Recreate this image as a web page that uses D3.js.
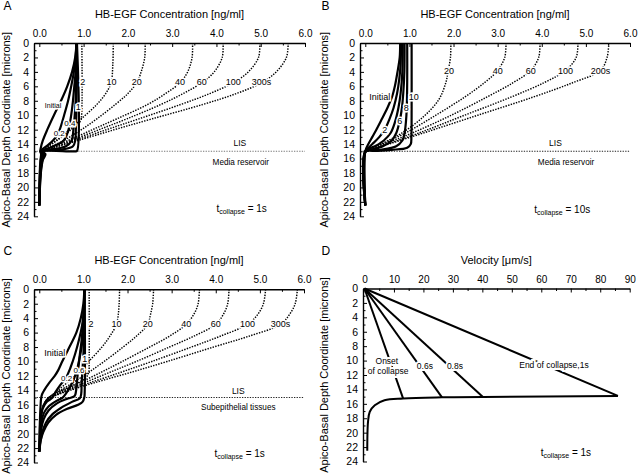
<!DOCTYPE html>
<html><head><meta charset="utf-8">
<script src="https://cdn.jsdelivr.net/npm/d3@7"></script>
<style>
body{margin:0;background:#fff}
svg{display:block}
text{font-family:"Liberation Sans",Arial,Helvetica,sans-serif}
</style>
</head><body>
<svg id="chart" width="638" height="475"></svg>
<script>
// ---------------- tick values ----------------
const concTicks = [0,1,2,3,4,5,6];
const concMinor = [0.5,1.5,2.5,3.5,4.5,5.5];
const depthTicks = [0,2,4,6,8,10,12,14,16,18,20,22,24];
const depthMinor = [1,3,5,7,9,11,13,15,17,19,21,23];
const velTicks = [0,10,20,30,40,50,60,70,80,90];
const velMinor = [5,15,25,35,45,55,65,75,85];

// ---------------- Panel A (each point: [depth, concentration]) ----------------
const aSolidNames = ["Initial","0.2","0.4","0.6","0.8","1"];
const aSolid = [
  [[0,0.84],[2,0.81],[4,0.74],[6,0.63],[8,0.49],[10,0.33],[12,0.18],[13.5,0.08],[14.6,0.03],[15,0.02],[15.4,0.04],[16.2,0.025],[18,0.01],[22.5,0]],
  [[0,0.84],[2,0.82],[4,0.78],[6,0.72],[8,0.65],[10,0.56],[12,0.46],[13,0.38],[14,0.22],[14.7,0.07],[15,0.03],[15.4,0.06],[16.2,0.035],[18,0.015],[22.5,0]],
  [[0,0.84],[2,0.835],[4,0.82],[6,0.79],[8,0.76],[10,0.72],[11.1,0.69],[12,0.66],[13.5,0.55],[14.3,0.32],[14.8,0.1],[15,0.04],[15.4,0.08],[16.2,0.05],[18,0.02],[22.5,0]],
  [[0,0.84],[4,0.835],[8,0.82],[10,0.8],[12,0.77],[13.5,0.73],[14.3,0.6],[14.7,0.32],[15,0.05],[15.4,0.1],[16.2,0.06],[18,0.025],[22.5,0]],
  [[0,0.845],[6,0.845],[10,0.835],[12,0.825],[13.5,0.81],[14.3,0.76],[14.75,0.5],[15,0.08],[15.4,0.12],[16.2,0.07],[18,0.03],[22.5,0]],
  [[0,0.85],[14.95,0.85],[15,0.8],[15,0.03],[15.4,0.14],[16.2,0.08],[18,0.035],[22.5,0]]
];
const aDottedNames = ["2","10","20","40","60","100","300s"];
const aDotted = [
  [[0,0.96],[10,0.955],[10.8,0.93],[12,0.72],[13.5,0.4],[14.5,0.16],[15,0.04]],
  [[0,1.67],[3,1.66],[5.5,1.62],[7,1.5],[8.5,1.3],[10.5,0.95],[12,0.68],[13.5,0.38],[14.5,0.15],[15,0.04]],
  [[0,2.39],[2,2.38],[4,2.3],[5.5,2.2],[7,2.0],[8.5,1.72],[10.5,1.3],[12,0.95],[13.5,0.55],[14.5,0.22],[15,0.05]],
  [[0,3.46],[2,3.45],[4,3.35],[5.5,3.18],[7,2.85],[8.5,2.45],[10.5,1.75],[12,1.2],[13.5,0.65],[14.5,0.25],[15,0.05]],
  [[0,4.15],[2,4.13],[4,3.95],[5.5,3.67],[7,3.25],[8.5,2.75],[10.5,1.98],[12,1.35],[13.5,0.72],[14.5,0.28],[15,0.05]],
  [[0,4.98],[2,4.95],[4,4.72],[5.5,4.38],[7,3.85],[8.5,3.2],[10.5,2.25],[12,1.52],[13.5,0.8],[14.5,0.3],[15,0.05]],
  [[0,5.62],[2,5.58],[4,5.35],[5.5,5.02],[7,4.45],[8.5,3.7],[10.5,2.55],[12,1.7],[13.5,0.88],[14.5,0.33],[15,0.05]]
];
// label: [text, concentration, depth, fontsize]
const aLabels = [["Initial",0.31,8.6,7],["1",0.88,8.8,9],["0.4",0.69,11.1,8],["0.2",0.45,12.5,8],
  ["2",0.98,5.4,9],["10",1.63,5.4,9],["20",2.2,5.4,9],["40",3.18,5.4,9],["60",3.67,5.4,9],["100",4.38,5.4,9],["300s",5.02,5.4,9]];

// ---------------- Panel B ----------------
const bSolidNames = ["Initial","2","4","6","8","10"];
const bSolid = [
  [[0,0.79],[2,0.78],[4,0.73],[6,0.67],[7.4,0.61],[9,0.5],[10.7,0.36],[12,0.25],[13,0.16],[14,0.07],[15,0],[22.5,0]],
  [[0,0.81],[3,0.8],[5,0.77],[7,0.72],[9,0.64],[10.5,0.55],[12,0.44],[13,0.32],[14,0.16],[14.7,0.04],[15,0],[22.5,0]],
  [[0,0.85],[4,0.84],[7,0.8],[9,0.75],[11,0.67],[12.5,0.57],[13.5,0.42],[14.3,0.22],[15,0],[22.5,0]],
  [[0,0.89],[4,0.885],[7,0.86],[9,0.83],[10.8,0.78],[12.5,0.7],[13.5,0.6],[14.3,0.4],[14.8,0.15],[15,0],[22.5,0]],
  [[0,0.95],[5,0.95],[9,0.94],[11,0.92],[12.5,0.89],[13.5,0.84],[14.3,0.7],[14.8,0.35],[15,0.02],[22.5,0]],
  [[0,1.05],[10,1.05],[13,1.045],[14,1.03],[14.5,0.95],[14.8,0.6],[14.95,0.2],[15,0.01],[22.5,0]]
];
const bDottedNames = ["20","40","60","100","200s"];
const bDotted = [
  [[0,1.94],[2,1.93],[3.8,1.88],[5.6,1.82],[7.9,1.66],[10.2,1.32],[12.5,0.82],[14.4,0.22],[15,0.03]],
  [[0,3.19],[2,3.16],[3.8,3.0],[5.5,2.7],[7.5,2.25],[10,1.6],[12.5,0.9],[14.3,0.28],[15,0.03]],
  [[0,3.96],[2,3.93],[3.8,3.75],[5.5,3.35],[7.5,2.75],[10,1.95],[12.5,1.05],[14.3,0.32],[15,0.03]],
  [[0,4.82],[2,4.78],[3.8,4.54],[5.5,4.05],[7.5,3.3],[10,2.25],[12.5,1.2],[14.3,0.36],[15,0.03]],
  [[0,5.52],[2,5.48],[3.8,5.33],[5.5,4.7],[7.5,3.8],[10,2.55],[12.5,1.3],[14.3,0.38],[15,0.03]]
];
const bLabels = [["Initial",0.33,7.4,9],["2",0.44,12.0,9],["6",0.78,10.8,9],["8",0.93,9.0,9],["10",1.1,7.4,9],
  ["20",1.9,3.9,9],["40",3.0,3.9,9],["60",3.75,3.9,9],["100",4.54,3.9,9],["200s",5.33,3.9,9]];

// ---------------- Panel C ----------------
const cSolidNames = ["Initial","0.2","0.4","0.6","0.8","1"];
const cSolid = [
  [[0,1.02],[2,1.0],[4,0.94],[6,0.84],[8.4,0.65],[10,0.52],[11.2,0.43],[12,0.35],[13,0.22],[14,0.11],[14.6,0.06],[15.2,0.04],[16,0.03],[18,0.015],[22.5,0]],
  [[0,1.02],[3,1.01],[5,0.97],[7,0.9],[9,0.81],[10.8,0.71],[12.3,0.6],[13.3,0.47],[14.3,0.36],[15,0.3],[15.6,0.17],[16.5,0.08],[18,0.03],[20,0.01],[22.5,0]],
  [[0,1.02],[4,1.01],[7,0.98],[9,0.93],[11,0.86],[12.5,0.78],[13.5,0.7],[14.5,0.6],[15,0.53],[15.5,0.38],[16.3,0.2],[17.2,0.1],[18.5,0.05],[20.5,0.02],[22.5,0]],
  [[0,1.02],[4,1.0],[7,0.96],[9,0.92],[11.2,0.88],[13,0.85],[14.2,0.83],[14.8,0.8],[15.2,0.62],[15.8,0.4],[16.8,0.21],[18,0.1],[19.5,0.04],[22.5,0]],
  [[0,1.02],[6,1.01],[9,1.0],[11,0.98],[13,0.96],[14.5,0.95],[15.1,0.92],[15.6,0.74],[16.4,0.5],[17.3,0.3],[18.5,0.15],[20,0.06],[22.5,0]],
  [[0,1.03],[14,1.03],[15,1.02],[15.6,0.98],[16,0.88],[16.6,0.62],[17.4,0.38],[18.5,0.2],[19.8,0.09],[21,0.03],[22.5,-0.01]]
];
const cDottedNames = ["2","10","20","40","60","100","300s"];
const cDotted = [
  [[0,1.13],[10,1.13],[11.5,1.12],[12.3,1.05],[13.2,0.8],[14,0.5],[14.6,0.3],[15.2,0.18],[16,0.1],[17.5,0.04],[20,0.01]],
  [[0,1.82],[2,1.81],[3.5,1.79],[4.85,1.75],[6.5,1.6],[8,1.42],[10,1.12],[11.5,0.9],[13,0.62],[14,0.42],[14.6,0.3],[15.2,0.18],[16,0.1],[17.5,0.04],[20,0.01]],
  [[0,2.59],[2,2.57],[3.5,2.52],[4.85,2.46],[6.5,2.2],[8,1.9],[10,1.47],[11.5,1.12],[13,0.75],[14,0.48],[14.6,0.32],[15.2,0.18],[16,0.1],[17.5,0.04],[20,0.01]],
  [[0,3.63],[2,3.6],[3.5,3.5],[4.85,3.33],[6.5,2.95],[8,2.5],[10,1.88],[11.5,1.4],[13,0.9],[14,0.55],[14.6,0.35],[15.2,0.2],[16,0.1],[17.5,0.04],[20,0.01]],
  [[0,4.3],[2,4.27],[3.5,4.17],[4.85,4.0],[6.5,3.5],[8,2.95],[10,2.2],[11.5,1.6],[13,1.0],[14,0.6],[14.6,0.37],[15.2,0.2],[16,0.1],[17.5,0.04],[20,0.01]],
  [[0,5.13],[2,5.08],[3.5,4.95],[4.85,4.72],[6.5,4.1],[8,3.45],[10,2.55],[11.5,1.85],[13,1.12],[14,0.65],[14.6,0.4],[15.2,0.2],[16,0.1],[17.5,0.04],[20,0.01]],
  [[0,5.85],[2,5.8],[3.5,5.67],[4.85,5.47],[6.5,4.75],[8,3.95],[10,2.9],[11.5,2.08],[13,1.22],[14,0.7],[14.6,0.42],[15.2,0.2],[16,0.1],[17.5,0.04],[20,0.01]]
];
const cLabels = [["Initial",0.35,8.8,9],["1",1.03,9.6,9],["0.6",0.9,11.2,8],["0.2",0.62,12.3,8],
  ["2",1.17,4.85,9],["10",1.75,4.85,9],["20",2.46,4.85,9],["40",3.33,4.85,9],["60",4.0,4.85,9],["100",4.72,4.85,9],["300s",5.47,4.85,9]];

// ---------------- Panel D (velocity, depth) ----------------
const dLineNames = ["Onset of collapse","0.6s","0.8s","End of collapse,1s"];
const dVelAtInterface = [13.1, 26.3, 40.2, 86.0];
const dDepthAtInterface = [15.25, 15.1, 15.05, 14.9];
const dBottom = [[14.9,86],[15.05,40.2],[15.1,26.3],[15.25,13.1],[15.5,6.8],[16.2,3.5],[17.1,1.8],[18.5,1.2],[20.4,1.0],[22.5,0.95]];
const dLabels = [["Onset",7.6,10.5],["of collapse",8.0,11.9],["0.6s",20.5,11.1],["0.8s",30.7,11.1],["End of collapse,1s",64.3,11.0]];

// ---------------- drawing ----------------
const svg = d3.select("#chart");
const fmt1 = d3.format(".1f");

function axes(g, x, y, xt, xm, xf, yt, ym) {
  const top = y.range()[0];
  const left = x.range()[0];
  const ax = g.append("g").attr("transform", `translate(0,${top})`)
    .call(d3.axisTop(x).tickValues(xt).tickFormat(xf).tickSizeInner(-4).tickSizeOuter(0).tickPadding(6));
  g.append("g").attr("transform", `translate(0,${top})`)
    .call(d3.axisTop(x).tickValues(xm).tickFormat("").tickSizeInner(-2.5).tickSizeOuter(0))
    .call(s => s.select(".domain").remove());
  const ay = g.append("g").attr("transform", `translate(${left},0)`)
    .call(d3.axisLeft(y).tickValues(yt).tickSizeInner(-4).tickSizeOuter(0).tickPadding(5));
  g.append("g").attr("transform", `translate(${left},0)`)
    .call(d3.axisLeft(y).tickValues(ym).tickFormat("").tickSizeInner(-2.5).tickSizeOuter(0))
    .call(s => s.select(".domain").remove());
  g.selectAll(".domain").attr("stroke-width", 1.4).attr("stroke", "#000");
  g.selectAll(".tick line").attr("stroke", "#000").attr("stroke-width", 1);
  ax.attr("font-family", null).attr("font-size", 10);
  ay.attr("font-family", null).attr("font-size", 10.5);
  g.selectAll(".tick text").attr("fill", "#000");
}

function titles(g, x, y, panelLeft, xTitle, letter, letterY) {
  const cx = (x.range()[0] + x.range()[1]) / 2;
  g.append("text").attr("x", cx).attr("y", y.range()[0] - 25).attr("text-anchor", "middle")
    .attr("font-size", 11).text(xTitle);
  const cy = (y.range()[0] + y.range()[1]) / 2;
  g.append("text").attr("transform", `translate(${panelLeft + 9.5},${cy}) rotate(-90)`)
    .attr("text-anchor", "middle").attr("font-size", 11).text("Apico-Basal Depth Coordinate [microns]");
  g.append("text").attr("x", panelLeft + 3.5).attr("y", letterY).attr("font-size", 12).text(letter);
}

function tcollapse(g, x, y, v, d, valueText) {
  const t = g.append("text").attr("x", x(v)).attr("y", y(d)).attr("font-size", 10);
  t.append("tspan").text("t");
  t.append("tspan").attr("font-size", 7).attr("dy", 2).text("collapse");
  t.append("tspan").attr("dy", -2).text(" = " + valueText);
}

function concPanel(opts) {
  const g = svg.append("g");
  const x = d3.scaleLinear().domain([-0.12, 6]).range(opts.xr);
  const y = d3.scaleLinear().domain([0, 24]).range(opts.yr);
  // interface line
  g.append("line").attr("x1", x.range()[0]).attr("x2", x.range()[1])
    .attr("y1", y(15)).attr("y2", y(15))
    .attr("stroke", opts.ifaceColor).attr("stroke-width", 1.1).attr("stroke-dasharray", "1.3,1.3");
  const line = d3.line().x(p => x(p[1])).y(p => y(p[0])).curve(d3.curveCatmullRom.alpha(0.5));
  g.append("g").selectAll("path").data(opts.dotted).join("path")
    .attr("d", line).attr("fill", "none").attr("stroke", "#000")
    .attr("stroke-width", 1.45).attr("stroke-dasharray", "1.4,1.3");
  g.append("g").selectAll("path").data(opts.solid).join("path")
    .attr("d", line).attr("fill", "none").attr("stroke", "#000")
    .attr("stroke-width", 2.2).attr("stroke-linejoin", "round");
  axes(g, x, y, concTicks, concMinor, fmt1, depthTicks, depthMinor);
  g.append("g").selectAll("text").data(opts.labels).join("text")
    .attr("x", l => x(l[1])).attr("y", l => y(l[2])).attr("dy", "0.35em")
    .attr("text-anchor", "middle").attr("font-size", l => l[3])
    .attr("stroke", "#fff").attr("stroke-width", 3).attr("paint-order", "stroke").attr("fill", "#000")
    .text(l => l[0]);
  g.append("text").attr("x", x(opts.lis[0])).attr("y", y(opts.lis[1])).attr("text-anchor", "middle")
    .attr("font-size", 8.5).text("LIS");
  g.append("text").attr("x", x(opts.below[1])).attr("y", y(opts.below[2])).attr("text-anchor", "middle")
    .attr("font-size", 8.2).text(opts.below[0]);
  tcollapse(g, x, y, opts.tc[0], opts.tc[1], opts.tc[2]);
  titles(g, x, y, opts.panelLeft, "HB-EGF Concentration [ng/ml]", opts.letter, opts.letterY);
}

concPanel({xr:[34,305], yr:[43,216.3], solid:aSolid, dotted:aDotted, labels:aLabels, ifaceColor:"#777",
  lis:[4.53,14.27], below:["Media reservoir",4.55,16.85], tc:[4.0,23.4,"1s"], panelLeft:0, letter:"A", letterY:10});
concPanel({xr:[360,630], yr:[43,216.3], solid:bSolid, dotted:bDotted, labels:bLabels, ifaceColor:"#222",
  lis:[4.31,14.27], below:["Media reservoir",4.55,16.85], tc:[3.83,23.5,"10s"], panelLeft:318, letter:"B", letterY:10});
concPanel({xr:[34,304], yr:[289.3,462.5], solid:cSolid, dotted:cDotted, labels:cLabels, ifaceColor:"#222",
  lis:[4.51,14.54], below:["Subepithelial tissues",4.51,16.7], tc:[3.97,23.2,"1s"], panelLeft:0, letter:"C", letterY:255});

// Panel D
(function(){
  const g = svg.append("g");
  const x = d3.scaleLinear().domain([-0.5, 90]).range([363, 629.7]);
  const y = d3.scaleLinear().domain([0, 24]).range([288.5, 461.5]);
  const line = d3.line().x(p => x(p[1])).y(p => y(p[0])).curve(d3.curveCatmullRom.alpha(0.5));
  const straight = d3.line().x(p => x(p[1])).y(p => y(p[0]));
  g.append("g").selectAll("path").data(dVelAtInterface).join("path")
    .attr("d", (v, i) => straight([[0,0],[dDepthAtInterface[i], v]]))
    .attr("fill", "none").attr("stroke", "#000").attr("stroke-width", 2);
  g.append("path").attr("d", line(dBottom)).attr("fill", "none").attr("stroke", "#000").attr("stroke-width", 2);
  axes(g, x, y, velTicks, velMinor, d3.format("d"), depthTicks, depthMinor);
  g.append("g").selectAll("text").data(dLabels).join("text")
    .attr("x", l => x(l[1])).attr("y", l => y(l[2]))
    .attr("text-anchor", "middle").attr("font-size", 8.5)
    .attr("stroke", "#fff").attr("stroke-width", 4).attr("paint-order", "stroke").attr("fill", "#000")
    .text(l => l[0]);
  tcollapse(g, x, y, 59.8, 23.2, "1s");
  titles(g, x, y, 318, "Velocity [μm/s]", "D", 255);
})();
</script>
</body></html>
